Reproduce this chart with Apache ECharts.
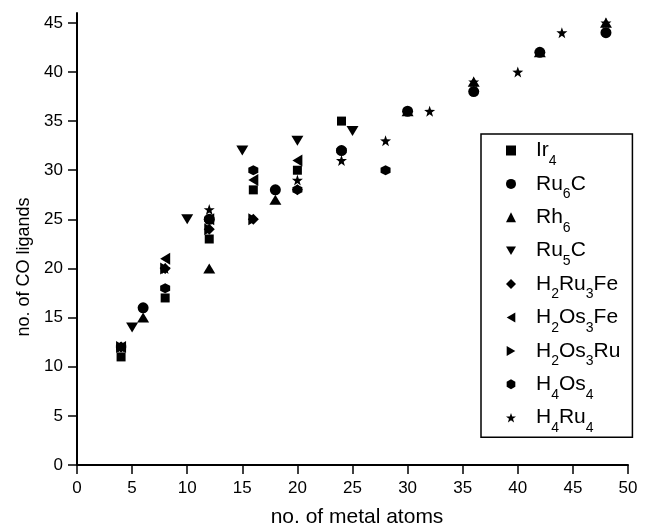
<!DOCTYPE html>
<html>
<head>
<meta charset="utf-8">
<script src="https://cdn.jsdelivr.net/npm/echarts@6/dist/echarts.min.js"></script>
<style>
  html, body { margin: 0; padding: 0; background: #fff; }
  #chart { width: 645px; height: 531px; }
</style>
</head>
<body>
<div id="chart"></div>
<script>
// no. of metal atoms vs no. of CO ligands, one array per cluster family
const ir4 = [[4, 11], [8, 17], [12, 23], [16, 28], [20, 30], [24, 35]]
const ru6c = [[6, 16], [12, 25], [18, 28], [24, 32], [30, 36], [36, 38], [42, 42], [48, 44]]
const rh6 = [[6, 15], [12, 20], [18, 27], [30, 36], [36, 39], [42, 42], [48, 45]]
const ru5c = [[5, 14], [10, 25], [15, 32], [20, 33], [25, 34]]
const h2ru3fe = [[4, 12], [8, 20], [12, 24], [16, 25], [20, 28]]
const h2os3fe = [[4, 12], [8, 21], [12, 25], [16, 29], [20, 31]]
const h2os3ru = [[4, 12], [8, 20], [12, 24], [16, 25]]
const h4os4 = [[4, 12], [8, 18], [12, 25], [16, 30], [20, 28], [24, 32], [28, 30]]
const h4ru4 = [[4, 12], [8, 20], [12, 26], [20, 29], [24, 31], [28, 33], [32, 36], [36, 39], [40, 40], [44, 44], [48, 45]]

const xTicks = [0, 5, 10, 15, 20, 25, 30, 35, 40, 45, 50]
const yTicks = [0, 5, 10, 15, 20, 25, 30, 35, 40, 45]

const STAR = 'path://M0,-10L2.35,-3.24L9.51,-3.09L3.8,1.24L5.88,8.09L0,4L-5.88,8.09L-3.8,1.24L-9.51,-3.09L-2.35,-3.24Z'
const HEX = 'path://M0,-10L8.66,-5L8.66,5L0,10L-8.66,5L-8.66,-5Z'
const TRI_DOWN = 'path://M0,0L2,0L1,1.73Z'
const TRI_LEFT = 'path://M0,1L1.73,0L1.73,2Z'
const TRI_RIGHT = 'path://M0,0L1.73,1L0,2Z'

const seriesDefs = [
  { name: 'Ir4', data: ir4, symbol: 'rect', size: 9 },
  { name: 'Ru6C', data: ru6c, symbol: 'circle', size: 11 },
  { name: 'Rh6', data: rh6, symbol: 'triangle', size: [12, 10] },
  { name: 'Ru5C', data: ru5c, symbol: TRI_DOWN, size: [12, 10] },
  { name: 'H2Ru3Fe', data: h2ru3fe, symbol: 'diamond', size: 11 },
  { name: 'H2Os3Fe', data: h2os3fe, symbol: TRI_LEFT, size: [10, 12] },
  { name: 'H2Os3Ru', data: h2os3ru, symbol: TRI_RIGHT, size: [10, 12] },
  { name: 'H4Os4', data: h4os4, symbol: HEX, size: 10 },
  { name: 'H4Ru4', data: h4ru4, symbol: STAR, size: 11 }
]

const font = '"Liberation Sans", Arial, sans-serif'

const chart = echarts.init(document.getElementById('chart'))
chart.setOption({
  animation: false,
  backgroundColor: '#fff',
  grid: { left: 77, right: 17, top: 13, bottom: 66, containLabel: false, outerBoundsMode: 'none' },
  xAxis: {
    type: 'value', min: 0, max: 50, interval: 5,
    name: 'no. of metal atoms', nameLocation: 'middle', nameGap: 42,
    nameTextStyle: { fontFamily: font, fontSize: 21, color: '#000', padding: [0, 0, 0, 9] },
    splitLine: { show: false },
    axisLine: { onZero: false, lineStyle: { color: '#000', width: 2 } },
    axisTick: { inside: false, length: 9, lineStyle: { color: '#000', width: 1.5 }, customValues: xTicks },
    axisLabel: { fontFamily: font, fontSize: 17, color: '#000', margin: 15, customValues: xTicks }
  },
  yAxis: {
    type: 'value', min: 0, max: 46,
    name: 'no. of CO ligands', nameLocation: 'middle', nameGap: 38,
    nameTextStyle: { fontFamily: font, fontSize: 18, color: '#000', padding: [0, 56, 0, 0] },
    splitLine: { show: false },
    axisLine: { onZero: false, lineStyle: { color: '#000', width: 2 } },
    axisTick: { inside: false, length: 9, lineStyle: { color: '#000', width: 1.5 }, customValues: yTicks },
    axisLabel: { fontFamily: font, fontSize: 17, color: '#000', margin: 14, customValues: yTicks }
  },
  legend: {
    orient: 'vertical', left: 481, top: 134,
    backgroundColor: '#fff',
    borderColor: '#000', borderWidth: 1.5, borderRadius: 0,
    padding: [6, 12, 2, 25],
    itemWidth: 10, itemHeight: 10, itemGap: 5.4,
    formatter: name => name.replace(/\d+/g, d => '|' + d + '|')
      .split('|').filter(p => p !== '')
      .map(p => /^\d+$/.test(p) ? '{s|' + p + '}' : '{n|' + p + '}').join(''),
    textStyle: {
      fontFamily: font, fontSize: 21, color: '#000',
      padding: [0, 0, 0, 15],
      rich: {
        n: { fontFamily: font, fontSize: 21, color: '#000', lineHeight: 35, verticalAlign: 'middle' },
        s: { fontFamily: font, fontSize: 14, color: '#000', lineHeight: 14, verticalAlign: 'bottom' }
      }
    },
    data: seriesDefs.map(s => s.name)
  },
  series: seriesDefs.map(s => ({
    type: 'scatter', name: s.name, data: s.data,
    symbol: s.symbol, symbolSize: s.size,
    itemStyle: { color: '#000', opacity: 1 }
  }))
})
</script>
</body>
</html>
